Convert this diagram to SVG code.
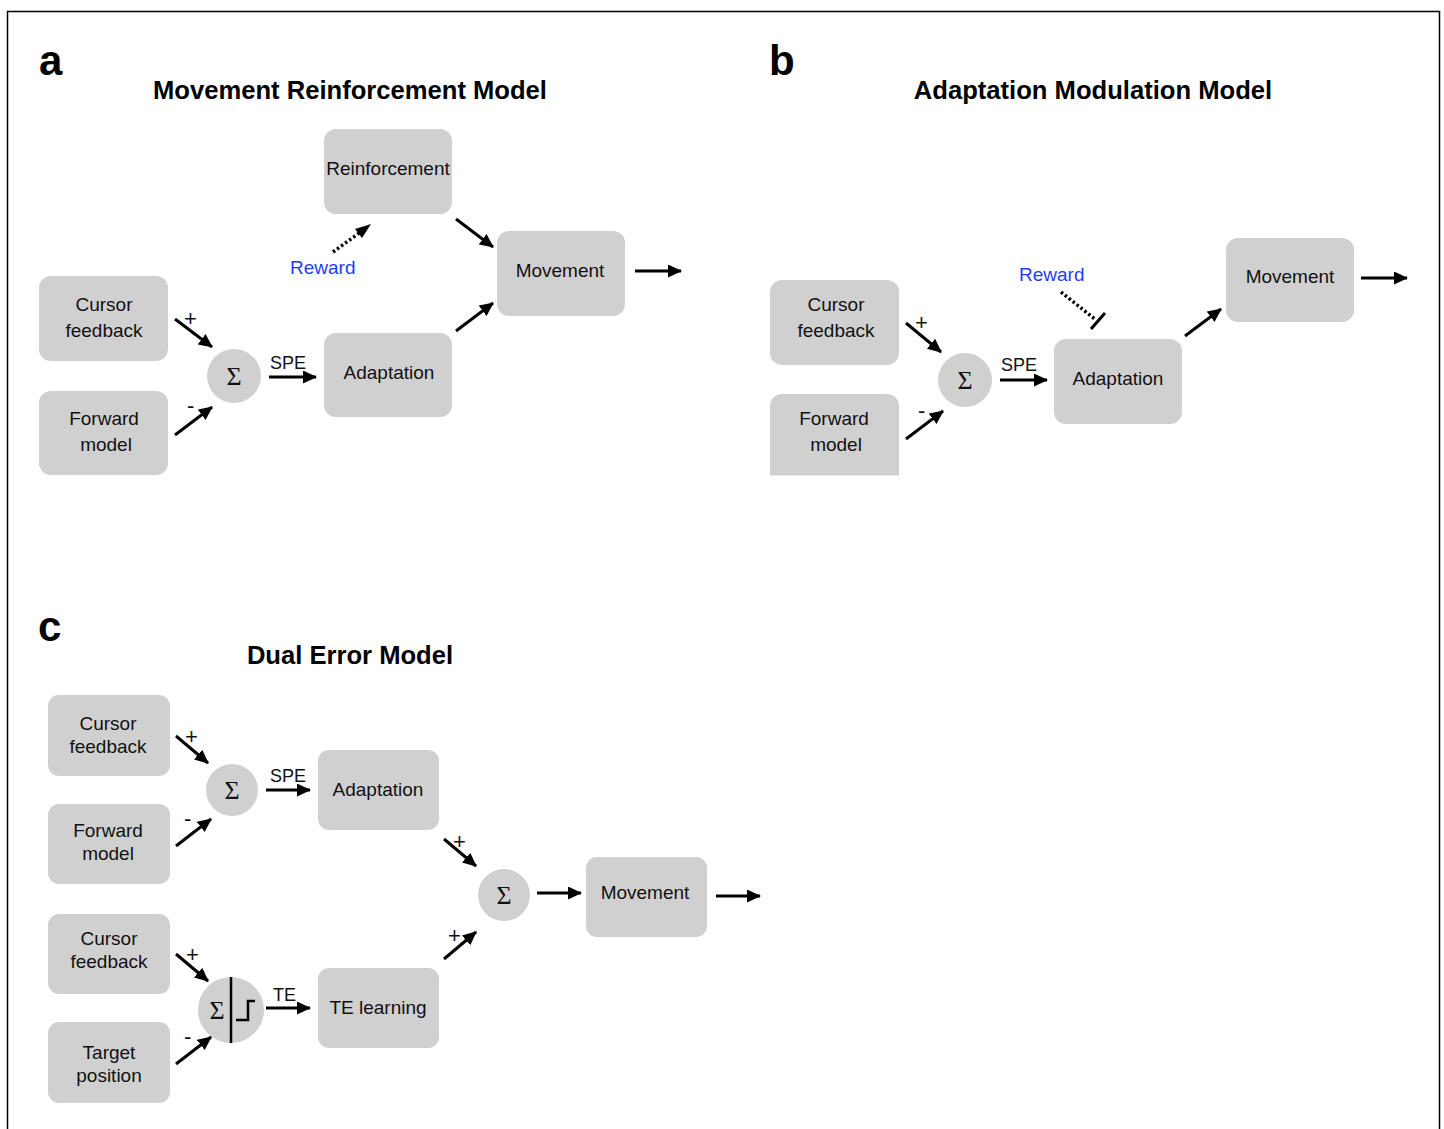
<svg xmlns="http://www.w3.org/2000/svg" width="1444" height="1129" viewBox="0 0 1444 1129">
<defs>
<style>
.box{fill:#d1d0d1}
.t{font-family:"Liberation Sans",Arial,sans-serif;font-size:19px;fill:#111;text-anchor:middle}
.h{font-family:"Liberation Sans",Arial,sans-serif;font-size:25.6px;font-weight:bold;fill:#000;text-anchor:middle}
.p{font-family:"Liberation Sans",Arial,sans-serif;font-size:42px;font-weight:bold;fill:#000}
.s{font-family:"Liberation Sans",Arial,sans-serif;font-size:18px;fill:#111}
.pm{font-family:"Liberation Sans",Arial,sans-serif;font-size:22px;fill:#111}
.sig{font-family:"Liberation Serif","Times New Roman",serif;font-size:26px;fill:#111;text-anchor:middle}
.rw{font-family:"Liberation Sans",Arial,sans-serif;font-size:19px;fill:#1f3cff}
.a{stroke:#000;stroke-width:3;fill:none;marker-end:url(#ah)}
.d{stroke:#000;stroke-width:3.5;fill:none;stroke-dasharray:2.5 2.5}
</style>
<marker id="ah" markerUnits="userSpaceOnUse" markerWidth="15" markerHeight="13" refX="13" refY="6.5" orient="auto">
<path d="M0,0 L14,6.5 L0,13 Z" fill="#000"/>
</marker>
<clipPath id="cb"><rect x="760" y="380" width="160" height="95.5"/></clipPath>
</defs>
<rect x="0" y="0" width="1444" height="1129" fill="#fff"/>
<path d="M7.5,1129 V11.5 H1439.5 V1129" fill="none" stroke="#000" stroke-width="1.5"/>

<text class="p" x="39" y="75">a</text>
<text class="p" x="769" y="75">b</text>
<text class="p" x="38" y="641">c</text>
<text class="h" x="350" y="99">Movement Reinforcement Model</text>
<text class="h" x="1093" y="99">Adaptation Modulation Model</text>
<text class="h" x="350" y="664">Dual Error Model</text>

<!-- Panel a -->
<g id="a-reinforcement"><rect class="box" x="324" y="129" width="128" height="85" rx="12"/><text class="t" x="388" y="175">Reinforcement</text></g>
<g id="a-movement"><rect class="box" x="497" y="231" width="128" height="85" rx="12"/><text class="t" x="560" y="277">Movement</text></g>
<g id="a-adaptation"><rect class="box" x="324" y="333" width="128" height="84" rx="12"/><text class="t" x="389" y="379">Adaptation</text></g>
<g id="a-cursor"><rect class="box" x="39" y="276" width="129" height="85" rx="12"/><text class="t" x="104" y="311">Cursor</text><text class="t" x="104" y="337">feedback</text></g>
<g id="a-forward"><rect class="box" x="39" y="391" width="129" height="84" rx="12"/><text class="t" x="104" y="425">Forward</text><text class="t" x="106" y="451">model</text></g>
<g id="a-sum"><circle class="box" cx="234" cy="376" r="27"/><text class="sig" x="234" y="385">Σ</text></g>

<!-- Panel b -->
<g id="b-cursor"><rect class="box" x="770" y="280" width="129" height="85" rx="12"/><text class="t" x="836" y="311">Cursor</text><text class="t" x="836" y="337">feedback</text></g>
<g id="b-forward"><rect class="box" x="770" y="394" width="129" height="100" rx="12" clip-path="url(#cb)"/><text class="t" x="834" y="425">Forward</text><text class="t" x="836" y="451">model</text></g>
<g id="b-sum"><circle class="box" cx="965" cy="380" r="27"/><text class="sig" x="965" y="389">Σ</text></g>
<g id="b-adaptation"><rect class="box" x="1054" y="339" width="128" height="85" rx="12"/><text class="t" x="1118" y="385">Adaptation</text></g>
<g id="b-movement"><rect class="box" x="1226" y="238" width="128" height="84" rx="12"/><text class="t" x="1290" y="283">Movement</text></g>

<!-- Panel c -->
<g id="c-cursor1"><rect class="box" x="48" y="695" width="122" height="81" rx="11"/><text class="t" x="108" y="730">Cursor</text><text class="t" x="108" y="753">feedback</text></g>
<g id="c-forward"><rect class="box" x="48" y="804" width="122" height="80" rx="11"/><text class="t" x="108" y="837">Forward</text><text class="t" x="108" y="860">model</text></g>
<g id="c-cursor2"><rect class="box" x="48" y="914" width="122" height="80" rx="11"/><text class="t" x="109" y="945">Cursor</text><text class="t" x="109" y="968">feedback</text></g>
<g id="c-target"><rect class="box" x="48" y="1022" width="122" height="81" rx="11"/><text class="t" x="109" y="1059">Target</text><text class="t" x="109" y="1082">position</text></g>
<g id="c-sum1"><circle class="box" cx="232" cy="790" r="26"/><text class="sig" x="232" y="799">Σ</text></g>
<g id="c-sumstep"><circle class="box" cx="231" cy="1010" r="33"/><line x1="231" y1="977" x2="231" y2="1043" stroke="#000" stroke-width="2.5"/><text class="sig" x="217" y="1019">Σ</text><path d="M236,1020 H248 V1001 H255" fill="none" stroke="#000" stroke-width="2.5"/></g>
<g id="c-adaptation"><rect class="box" x="318" y="750" width="121" height="80" rx="11"/><text class="t" x="378" y="796">Adaptation</text></g>
<g id="c-te"><rect class="box" x="318" y="968" width="121" height="80" rx="11"/><text class="t" x="378" y="1014">TE learning</text></g>
<g id="c-sum2"><circle class="box" cx="504" cy="895" r="26"/><text class="sig" x="504" y="904">Σ</text></g>
<g id="c-movement"><rect class="box" x="586" y="857" width="121" height="80" rx="11"/><text class="t" x="645" y="899">Movement</text></g>

<g id="connectors">
<!-- a -->
<line class="a" x1="175" y1="319" x2="212" y2="347"/>
<line class="a" x1="175" y1="435" x2="212" y2="407"/>
<line class="a" x1="269" y1="377" x2="316" y2="377"/>
<line class="d" x1="333" y1="252" x2="362" y2="231"/>
<path d="M371,224 L355,229 L362,238 Z" fill="#000"/>
<line class="a" x1="456" y1="219" x2="493" y2="247"/>
<line class="a" x1="456" y1="331" x2="493" y2="303"/>
<line class="a" x1="635" y1="271" x2="681" y2="271"/>
<!-- b -->
<line class="a" x1="906" y1="323" x2="941" y2="352"/>
<line class="a" x1="906" y1="439" x2="943" y2="411"/>
<line class="a" x1="1000" y1="380" x2="1047" y2="380"/>
<line class="d" x1="1061" y1="292" x2="1096" y2="320"/>
<line x1="1091" y1="329" x2="1105" y2="313" stroke="#000" stroke-width="3"/>
<line class="a" x1="1185" y1="336" x2="1221" y2="309"/>
<line class="a" x1="1361" y1="278" x2="1407" y2="278"/>
<!-- c -->
<line class="a" x1="176" y1="736" x2="208" y2="763"/>
<line class="a" x1="176" y1="846" x2="211" y2="819"/>
<line class="a" x1="266" y1="790" x2="310" y2="790"/>
<line class="a" x1="176" y1="954" x2="208" y2="981"/>
<line class="a" x1="176" y1="1064" x2="211" y2="1037"/>
<line class="a" x1="266" y1="1008" x2="310" y2="1008"/>
<line class="a" x1="444" y1="839" x2="476" y2="866"/>
<line class="a" x1="444" y1="959" x2="476" y2="932"/>
<line class="a" x1="537" y1="893" x2="581" y2="893"/>
<line class="a" x1="716" y1="896" x2="760" y2="896"/>
</g>

<g id="labels">
<text class="pm" x="184" y="326">+</text>
<text class="pm" x="187" y="413">-</text>
<text class="s" x="270" y="369">SPE</text>
<text class="rw" x="290" y="274">Reward</text>
<text class="pm" x="915" y="330">+</text>
<text class="pm" x="918" y="418">-</text>
<text class="s" x="1001" y="371">SPE</text>
<text class="rw" x="1019" y="281">Reward</text>
<text class="pm" x="185" y="744">+</text>
<text class="pm" x="184" y="826">-</text>
<text class="s" x="270" y="782">SPE</text>
<text class="pm" x="186" y="962">+</text>
<text class="pm" x="184" y="1044">-</text>
<text class="s" x="273" y="1001">TE</text>
<text class="pm" x="453" y="849">+</text>
<text class="pm" x="448" y="943">+</text>
</g>
</svg>
